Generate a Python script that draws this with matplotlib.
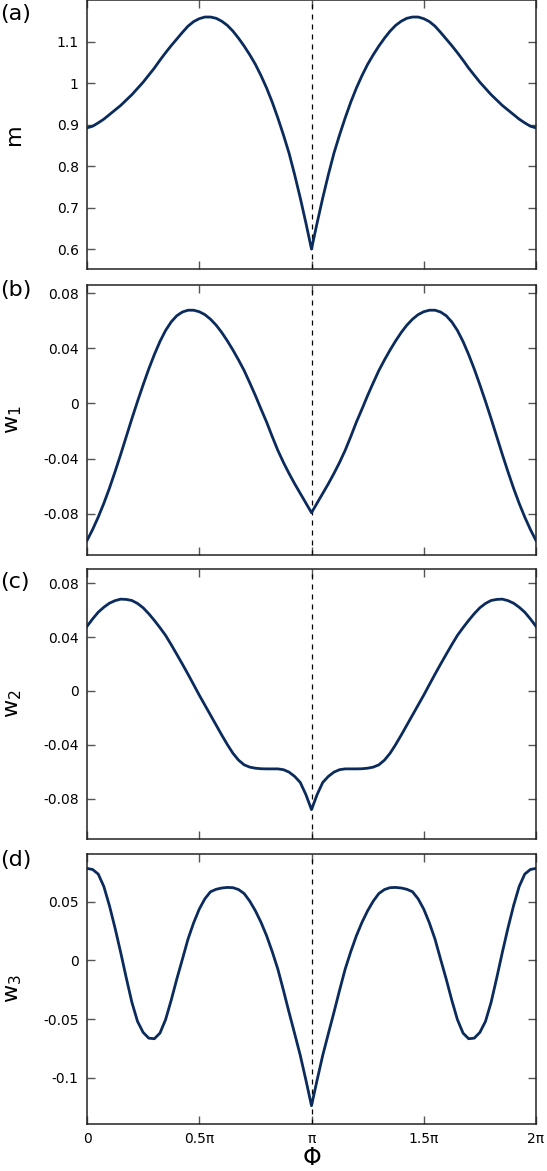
import numpy as np
import matplotlib
matplotlib.use('Agg')
import matplotlib.pyplot as plt

plt.rcParams['font.family'] = 'DejaVu Sans'
plt.rcParams['axes.unicode_minus'] = False

# values read every 0.025*pi from 0 to 2*pi
phi = np.linspace(0, 2, 81)

m_vals = [0.892, 0.896, 0.904, 0.913, 0.924, 0.935, 0.946, 0.959, 0.972, 0.987,
          1.002, 1.019, 1.036, 1.055, 1.073, 1.090, 1.106, 1.122, 1.137, 1.148,
          1.155, 1.159, 1.159, 1.156, 1.149, 1.139, 1.125, 1.108, 1.089, 1.068,
          1.045, 1.018, 0.988, 0.954, 0.916, 0.875, 0.831, 0.779, 0.723, 0.663,
          0.600,
          0.663, 0.723, 0.779, 0.831, 0.875, 0.916, 0.954, 0.988, 1.018, 1.045,
          1.068, 1.089, 1.108, 1.125, 1.139, 1.149, 1.156, 1.159, 1.159, 1.155,
          1.148, 1.137, 1.122, 1.106, 1.090, 1.073, 1.055, 1.036, 1.019, 1.002,
          0.987, 0.972, 0.959, 0.946, 0.935, 0.924, 0.913, 0.904, 0.896, 0.892]

w1_vals = [-0.0995, -0.0915, -0.0825, -0.0725, -0.0615, -0.0495, -0.0370, -0.0240, -0.0110, 0.0015,
           0.0135, 0.0250, 0.0355, 0.0450, 0.0530, 0.0592, 0.0637, 0.0664, 0.0677, 0.0677,
           0.0666, 0.0645, 0.0612, 0.0569, 0.0516, 0.0455, 0.0388, 0.0316, 0.0239, 0.0150,
           0.0058, -0.0040, -0.0135, -0.0240, -0.0340, -0.0428, -0.0508, -0.0583, -0.0653, -0.0723,
           -0.0793,
           -0.0723, -0.0653, -0.0583, -0.0508, -0.0428, -0.0340, -0.0240, -0.0135, -0.0040, 0.0058,
           0.0150, 0.0239, 0.0316, 0.0388, 0.0455, 0.0516, 0.0569, 0.0612, 0.0645, 0.0666,
           0.0677, 0.0677, 0.0664, 0.0637, 0.0592, 0.0530, 0.0450, 0.0355, 0.0250, 0.0135,
           0.0015, -0.0110, -0.0240, -0.0370, -0.0495, -0.0615, -0.0725, -0.0825, -0.0915, -0.0995]

w2_vals = [0.0480, 0.0535, 0.0585, 0.0622, 0.0652, 0.0671, 0.0682, 0.0680, 0.0672, 0.0650,
           0.0618, 0.0574, 0.0524, 0.0470, 0.0413, 0.0344, 0.0272, 0.0199, 0.0124, 0.0047,
           -0.0031, -0.0105, -0.0179, -0.0253, -0.0327, -0.0398, -0.0463, -0.0514, -0.0549, -0.0566,
           -0.0574, -0.0578, -0.0579, -0.0579, -0.0579, -0.0585, -0.0603, -0.0635, -0.0680, -0.0770,
           -0.0882,
           -0.0770, -0.0680, -0.0635, -0.0603, -0.0585, -0.0579, -0.0579, -0.0579, -0.0578, -0.0574,
           -0.0566, -0.0549, -0.0514, -0.0463, -0.0398, -0.0327, -0.0253, -0.0179, -0.0105, -0.0031,
           0.0047, 0.0124, 0.0199, 0.0272, 0.0344, 0.0413, 0.0470, 0.0524, 0.0574, 0.0618,
           0.0650, 0.0672, 0.0680, 0.0682, 0.0671, 0.0652, 0.0622, 0.0585, 0.0535, 0.0480]

w3_vals = [0.0784, 0.0775, 0.0736, 0.0630, 0.0466, 0.0275, 0.0068, -0.0150, -0.0358, -0.0520,
           -0.0614, -0.0663, -0.0668, -0.0620, -0.0505, -0.0340, -0.0159, 0.0010, 0.0182, 0.0320,
           0.0437, 0.0525, 0.0585, 0.0606, 0.0617, 0.0622, 0.0620, 0.0604, 0.0570, 0.0505,
           0.0423, 0.0325, 0.0210, 0.0075, -0.0074, -0.0255, -0.0443, -0.0625, -0.0810, -0.1020,
           -0.1239,
           -0.1020, -0.0810, -0.0625, -0.0443, -0.0255, -0.0074, 0.0075, 0.0210, 0.0325, 0.0423,
           0.0505, 0.0570, 0.0604, 0.0620, 0.0622, 0.0617, 0.0606, 0.0585, 0.0525, 0.0437,
           0.0320, 0.0182, 0.0010, -0.0159, -0.0340, -0.0505, -0.0620, -0.0668, -0.0663, -0.0614,
           -0.0520, -0.0358, -0.0150, 0.0068, 0.0275, 0.0466, 0.0630, 0.0736, 0.0775, 0.0784]

panel_letters = ['(a)', '(b)', '(c)', '(d)']
ylabels = ['m', r'w$_1$', r'w$_2$', r'w$_3$']
yticks = [[0.6, 0.7, 0.8, 0.9, 1.0, 1.1],
          [-0.08, -0.04, 0, 0.04, 0.08],
          [-0.08, -0.04, 0, 0.04, 0.08],
          [-0.1, -0.05, 0, 0.05]]
yticklabels = [['0.6', '0.7', '0.8', '0.9', '1', '1.1'],
               ['-0.08', '-0.04', '0', '0.04', '0.08'],
               ['-0.08', '-0.04', '0', '0.04', '0.08'],
               ['-0.1', '-0.05', '0', '0.05']]
ylims = [(0.552, 1.2), (-0.110, 0.086), (-0.110, 0.0906), (-0.1395, 0.0907)]
xticks = [0, 0.5, 1, 1.5, 2]
xticklabels = ['0', '0.5π', 'π', '1.5π', '2π']

W, H = 547, 1171
fig = plt.figure(figsize=(W / 100, H / 100), dpi=100)

# panel extents in pixels (top, bottom)
extents = [(0, 269), (285, 555), (569, 839), (854, 1124)]
left, right = 87, 536
letter_y = [14, 290, 582, 860]

series = [m_vals, w1_vals, w2_vals, w3_vals]
col = '#0a2b5c'

for i, (top, bot) in enumerate(extents):
    ax = fig.add_axes([left / W, 1 - bot / H, (right - left) / W, (bot - top) / H])
    ax.axvline(1.0, color='black', lw=0.9, ls=(0, (4, 4)))
    ax.plot(phi, series[i], color=col, lw=2.0, solid_joinstyle='round')
    ax.set_xlim(0, 2)
    ax.set_ylim(*ylims[i])
    ax.set_yticks(yticks[i])
    ax.set_yticklabels(yticklabels[i])
    ax.set_xticks(xticks)
    if i == 3:
        ax.set_xticklabels(xticklabels)
        ax.set_xlabel('Φ', fontsize=17, labelpad=0)
    else:
        ax.set_xticklabels([])
    ax.tick_params(direction='in', length=6, width=1, color='#555555',
                   top=True, right=True, labelsize=10, pad=6)
    for s in ax.spines.values():
        s.set_linewidth(1.1)
        s.set_color('#222222')
    ax.set_ylabel(ylabels[i], fontsize=16, va='center')
    ax.yaxis.set_label_coords(-0.163, 0.5)
    fig.text(0.0, 1 - letter_y[i] / H, panel_letters[i], fontsize=16, va='center', ha='left')

fig.savefig('out.png', dpi=100)
